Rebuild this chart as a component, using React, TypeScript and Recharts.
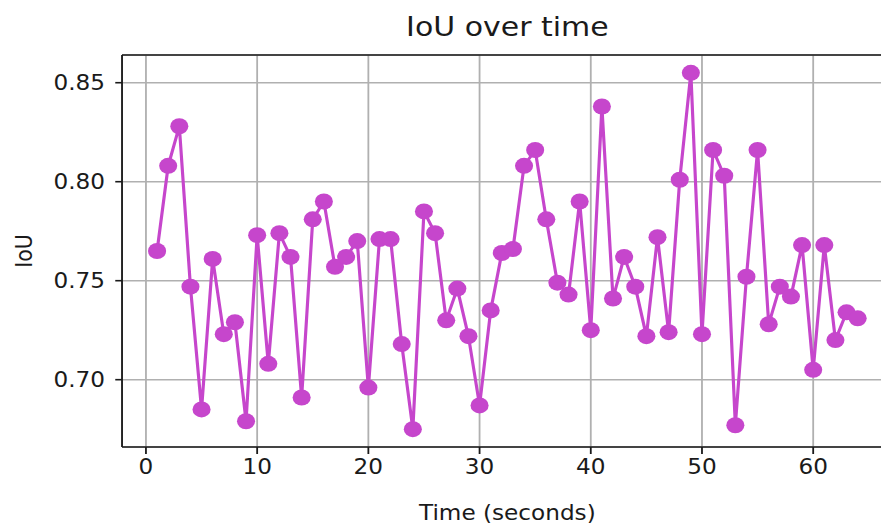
import React from "react"
import {
  CartesianGrid,
  Line,
  LineChart,
  ReferenceLine,
  XAxis,
  YAxis,
} from "recharts"

// time stamps (seconds) and IoU
const seconds = [
  1, 2, 3, 4, 5, 6, 7, 8, 9, 10, 11, 12, 13, 14, 15, 16,
  17, 18, 19, 20, 21, 22, 23, 24, 25, 26, 27, 28, 29, 30, 31, 32,
  33, 34, 35, 36, 37, 38, 39, 40, 41, 42, 43, 44, 45, 46, 47, 48,
  49, 50, 51, 52, 53, 54, 55, 56, 57, 58, 59, 60, 61, 62, 63, 64,
]
const iou = [
  0.765, 0.808, 0.828, 0.747, 0.685, 0.761, 0.723, 0.729,
  0.679, 0.773, 0.708, 0.774, 0.762, 0.691, 0.781, 0.790,
  0.757, 0.762, 0.770, 0.696, 0.771, 0.771, 0.718, 0.675,
  0.785, 0.774, 0.730, 0.746, 0.722, 0.687, 0.735, 0.764,
  0.766, 0.808, 0.816, 0.781, 0.749, 0.743, 0.790, 0.725,
  0.838, 0.741, 0.762, 0.747, 0.722, 0.772, 0.724, 0.801,
  0.855, 0.723, 0.816, 0.803, 0.677, 0.752, 0.816, 0.728,
  0.747, 0.742, 0.768, 0.705, 0.768, 0.720, 0.734, 0.731,
]
const xTicks = [0, 10, 20, 30, 40, 50, 60]
const yTicks = [0.7, 0.75, 0.8, 0.85]

const data = seconds.map((t, i) => ({ t, iou: iou[i] }))

const X_DOMAIN: [number, number] = [-2.15, 67.15]
const Y_DOMAIN: [number, number] = [0.666, 0.864]

const LINE = "#c646cc"
const GRID = "#b0b0b0"
const INK = "#1a1a1a"
const FONT = "'DejaVu Sans', sans-serif"
// the reference image is stretched sideways a bit
const STRETCH = 1.13

export default function App() {
  const tickStyle = { fill: INK, fontSize: 20.5, fontFamily: FONT }
  return (
    <div
      style={{
        position: "fixed",
        left: 0,
        top: 0,
        width: 881,
        height: 526,
        overflow: "hidden",
        background: "#fff",
      }}
    >
      <div
        style={{
          position: "relative",
          width: 800,
          height: 526,
          transform: `scaleX(${STRETCH})`,
          transformOrigin: "0 0",
        }}
      >
        <div
          style={{
            position: "absolute",
            left: 108,
            width: 682,
            top: 11,
            textAlign: "center",
            fontFamily: FONT,
            fontSize: 26.5,
            lineHeight: "32px",
            color: INK,
          }}
        >
          IoU over time
        </div>
        <LineChart
          width={800}
          height={526}
          data={data}
          margin={{ top: 55, right: 10, bottom: 0, left: 0 }}
        >
          <CartesianGrid stroke={GRID} strokeWidth={1.6} />
          <XAxis
            dataKey="t"
            type="number"
            domain={X_DOMAIN}
            ticks={xTicks}
            allowDataOverflow
            stroke={INK}
            strokeWidth={1.6}
            tickSize={7}
            tickMargin={5}
            tick={tickStyle}
            height={79}
            label={{
              value: "Time (seconds)",
              position: "insideBottom",
              offset: 6,
              fill: INK,
              fontSize: 20.5,
              fontFamily: FONT,
            }}
          />
          <YAxis
            type="number"
            domain={Y_DOMAIN}
            ticks={yTicks}
            allowDataOverflow
            tickFormatter={(v: number) => v.toFixed(2)}
            stroke={INK}
            strokeWidth={1.6}
            tickSize={6}
            tickMargin={9}
            tick={tickStyle}
            width={108}
            label={{
              content: ({ viewBox }: any) => {
                const cy = viewBox.y + viewBox.height / 2
                return (
                  <text
                    x={21}
                    y={cy}
                    transform={`rotate(-90 21 ${cy})`}
                    textAnchor="middle"
                    dominantBaseline="central"
                    fill={INK}
                    fontSize={20.5}
                    fontFamily={FONT}
                  >
                    IoU
                  </text>
                )
              },
            }}
          />
          <ReferenceLine y={Y_DOMAIN[1]} stroke={INK} strokeWidth={1.6} />
          <ReferenceLine x={X_DOMAIN[1]} stroke={INK} strokeWidth={1.6} />
          <Line
            type="linear"
            dataKey="iou"
            stroke={LINE}
            strokeWidth={2.8}
            dot={{ r: 8, fill: LINE, stroke: LINE, strokeWidth: 0 }}
            activeDot={false}
            isAnimationActive={false}
          />
        </LineChart>
      </div>
    </div>
  )
}
